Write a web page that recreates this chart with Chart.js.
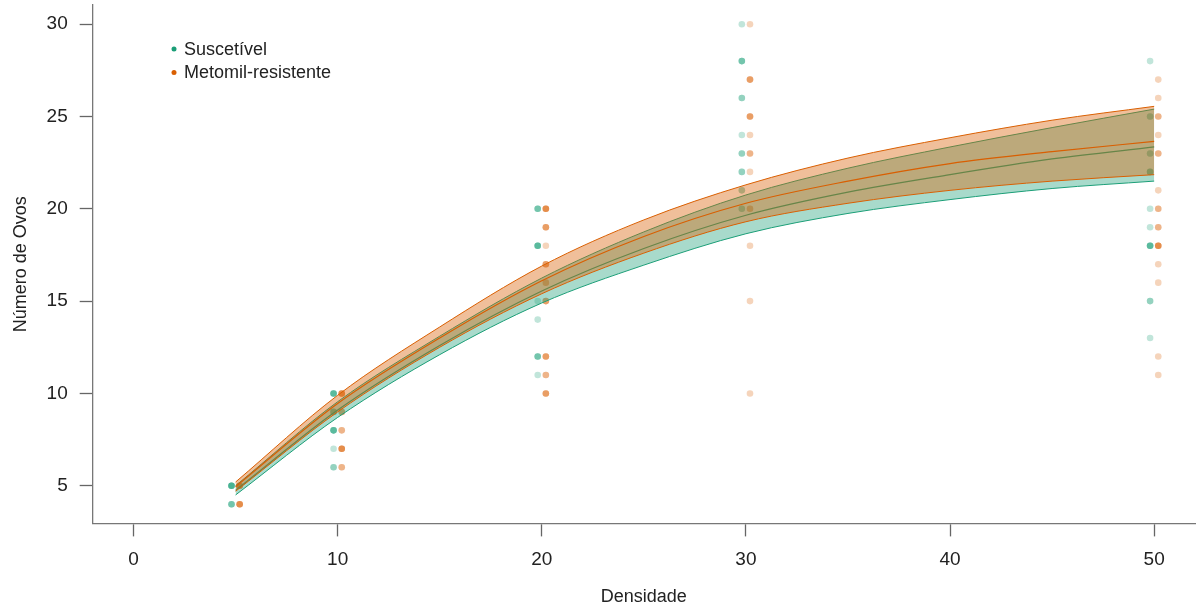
<!DOCTYPE html>
<html>
<head>
<meta charset="utf-8">
<script src="https://cdn.jsdelivr.net/npm/chart.js@4.4.1/dist/chart.umd.min.js"></script>
<style>
  html, body { margin: 0; padding: 0; background: #fff; }
  #wrap { width: 1199px; height: 609px; }
</style>
</head>
<body>
<div id="wrap"><canvas id="ovosChart" width="1199" height="609"></canvas></div>
<script>
// * axis ticks
const xTicks = [0, 10, 20, 30, 40, 50];
const yTicks = [5, 10, 15, 20, 25, 30];

// * fitted curves
const curveX = [5, 10, 15, 20, 25, 30, 35, 40, 45, 50];
const susMean = [4.75, 9.1, 12.6, 15.55, 17.85, 19.65, 20.9, 21.85, 22.7, 23.35];
const susUpper = [5.0, 9.55, 13.1, 16.25, 18.75, 20.75, 22.2, 23.35, 24.4, 25.4];
const susLower = [4.5, 8.7, 12.1, 14.9, 16.95, 18.65, 19.75, 20.5, 21.1, 21.5];
const resMean = [4.95, 9.45, 13.0, 16.1, 18.5, 20.3, 21.5, 22.45, 23.1, 23.65];
const resUpper = [5.2, 9.9, 13.6, 16.9, 19.4, 21.3, 22.75, 23.85, 24.8, 25.55];
const resLower = [4.7, 9.0, 12.5, 15.4, 17.6, 19.3, 20.3, 21.0, 21.5, 21.85];

// * observed points: [densidade, ovos, how many overlap]
const susPoints = [
  [5, 5, 5], [5, 4, 3],
  [10, 10, 4], [10, 9, 3], [10, 8, 4], [10, 7, 1], [10, 6, 2],
  [20, 20, 3], [20, 18, 4], [20, 15, 1], [20, 14, 1], [20, 12, 3], [20, 11, 1],
  [30, 30, 1], [30, 28, 3], [30, 26, 2], [30, 24, 1], [30, 23, 2], [30, 22, 2], [30, 21, 2], [30, 20, 2],
  [50, 28, 1], [50, 25, 2], [50, 23, 2], [50, 22, 3], [50, 20, 1], [50, 19, 1], [50, 18, 4], [50, 15, 2], [50, 13, 1],
];
const resPoints = [
  [5, 5, 4], [5, 4, 4],
  [10, 10, 4], [10, 9, 3], [10, 8, 2], [10, 7, 4], [10, 6, 2],
  [20, 20, 4], [20, 19, 3], [20, 18, 1], [20, 17, 3], [20, 16, 2], [20, 15, 3], [20, 12, 3], [20, 11, 2], [20, 10, 3],
  [30, 30, 1], [30, 27, 3], [30, 25, 3], [30, 24, 1], [30, 23, 2], [30, 22, 1], [30, 20, 2], [30, 18, 1], [30, 15, 1], [30, 10, 1],
  [50, 27, 1], [50, 26, 1], [50, 25, 2], [50, 24, 1], [50, 23, 2], [50, 21, 1], [50, 20, 2], [50, 19, 2], [50, 18, 4],
  [50, 17, 1], [50, 16, 1], [50, 12, 1], [50, 11, 1],
];

const seriesNames = ["Suscetível", "Metomil-resistente"];

window.addEventListener("DOMContentLoaded", () => {
  const GREEN = "27, 158, 119";
  const ORANGE = "217, 95, 2";
  const dodge = 0.2;
  const FONT = "'Liberation Sans', Arial, sans-serif";

  const toXY = (ys) => curveX.map((x, i) => ({ x: x, y: ys[i] }));

  // repeat overlapping points so the alpha stacks like in the original
  const expand = (pts, shift) => {
    const out = [];
    pts.forEach(([x, y, n]) => {
      for (let k = 0; k < n; k++) out.push({ x: x + shift, y: y });
    });
    return out;
  };

  const band = (ys, rgb, fill, alpha, order) => ({
    data: toXY(ys),
    showLine: true,
    borderColor: "rgb(" + rgb + ")",
    borderWidth: 1,
    pointRadius: 0,
    cubicInterpolationMode: "monotone",
    fill: fill,
    backgroundColor: "rgba(" + rgb + ", " + alpha + ")",
    order: order,
  });

  const meanLine = (ys, rgb, order) => ({
    data: toXY(ys),
    showLine: true,
    borderColor: "rgb(" + rgb + ")",
    borderWidth: 1.2,
    pointRadius: 0,
    cubicInterpolationMode: "monotone",
    order: order,
  });

  const datasets = [
    // green band + line
    band(susUpper, GREEN, false, 0.38, 5),
    band(susLower, GREEN, "-1", 0.38, 5),
    meanLine(susMean, GREEN, 4),
    // orange band + line
    band(resUpper, ORANGE, false, 0.4, 3),
    band(resLower, ORANGE, "-1", 0.4, 3),
    meanLine(resMean, ORANGE, 2),
    // points
    {
      data: expand(susPoints, -dodge),
      pointRadius: 3.3,
      pointBorderWidth: 0,
      pointBackgroundColor: "rgba(" + GREEN + ", 0.27)",
      order: 10,
    },
    {
      data: expand(resPoints, dodge),
      pointRadius: 3.3,
      pointBorderWidth: 0,
      pointBackgroundColor: "rgba(" + ORANGE + ", 0.27)",
      order: 10,
    },
  ];

  // legend drawn inside the plot, top left
  const insideLegend = {
    id: "insideLegend",
    afterDraw(chart) {
      const ctx = chart.ctx;
      const colors = [GREEN, ORANGE];
      ctx.save();
      ctx.font = "18px " + FONT;
      ctx.textBaseline = "middle";
      seriesNames.forEach((name, i) => {
        const y = 49 + i * 23.5;
        ctx.beginPath();
        ctx.arc(174, y, 2.5, 0, Math.PI * 2);
        ctx.fillStyle = "rgb(" + colors[i] + ")";
        ctx.fill();
        ctx.fillStyle = "#222";
        ctx.fillText(name, 184, y + 1);
      });
      ctx.restore();
    },
  };

  const config = {
    type: "scatter",
    data: { datasets: datasets },
    options: {
      responsive: false,
      animation: false,
      layout: { padding: { top: 5, right: 0, left: 0, bottom: 0 } },
      plugins: {
        legend: { display: false },
        tooltip: { enabled: false },
      },
      scales: {
        x: {
          type: "linear",
          min: -2,
          max: 52,
          afterBuildTicks: (scale) => {
            scale.ticks = xTicks.map((v) => ({ value: v }));
          },
          afterFit: (scale) => {
            scale.height = 85.6;
            scale.paddingLeft = 0;
            scale.paddingRight = 0;
          },
          grid: {
            drawOnChartArea: false,
            drawTicks: true,
            tickLength: 13,
            tickColor: "#666",
            tickWidth: 1.3,
          },
          border: { display: true, color: "#777", width: 1.3 },
          ticks: {
            padding: 12,
            color: "#222",
            font: { family: FONT, size: 19 },
          },
          title: {
            display: true,
            text: "Densidade",
            color: "#222",
            font: { family: FONT, size: 18 },
            padding: { top: 0, bottom: 1 },
          },
        },
        y: {
          type: "linear",
          min: 2.96,
          max: 31.04,
          afterBuildTicks: (scale) => {
            scale.ticks = yTicks.map((v) => ({ value: v }));
          },
          afterFit: (scale) => {
            scale.width = 92.7;
            scale.paddingTop = 0;
            scale.paddingBottom = 0;
          },
          grid: {
            drawOnChartArea: false,
            drawTicks: true,
            tickLength: 13,
            tickColor: "#666",
            tickWidth: 1.3,
          },
          border: { display: true, color: "#777", width: 1.3 },
          ticks: {
            padding: 12,
            color: "#222",
            font: { family: FONT, size: 19 },
          },
          title: {
            display: true,
            text: "Número de Ovos",
            color: "#222",
            font: { family: FONT, size: 18 },
            padding: { top: 10, bottom: 0 },
          },
        },
      },
    },
    plugins: [insideLegend],
  };

  const ctx = document.getElementById("ovosChart").getContext("2d");
  new Chart(ctx, config);
});
</script>
</body>
</html>
